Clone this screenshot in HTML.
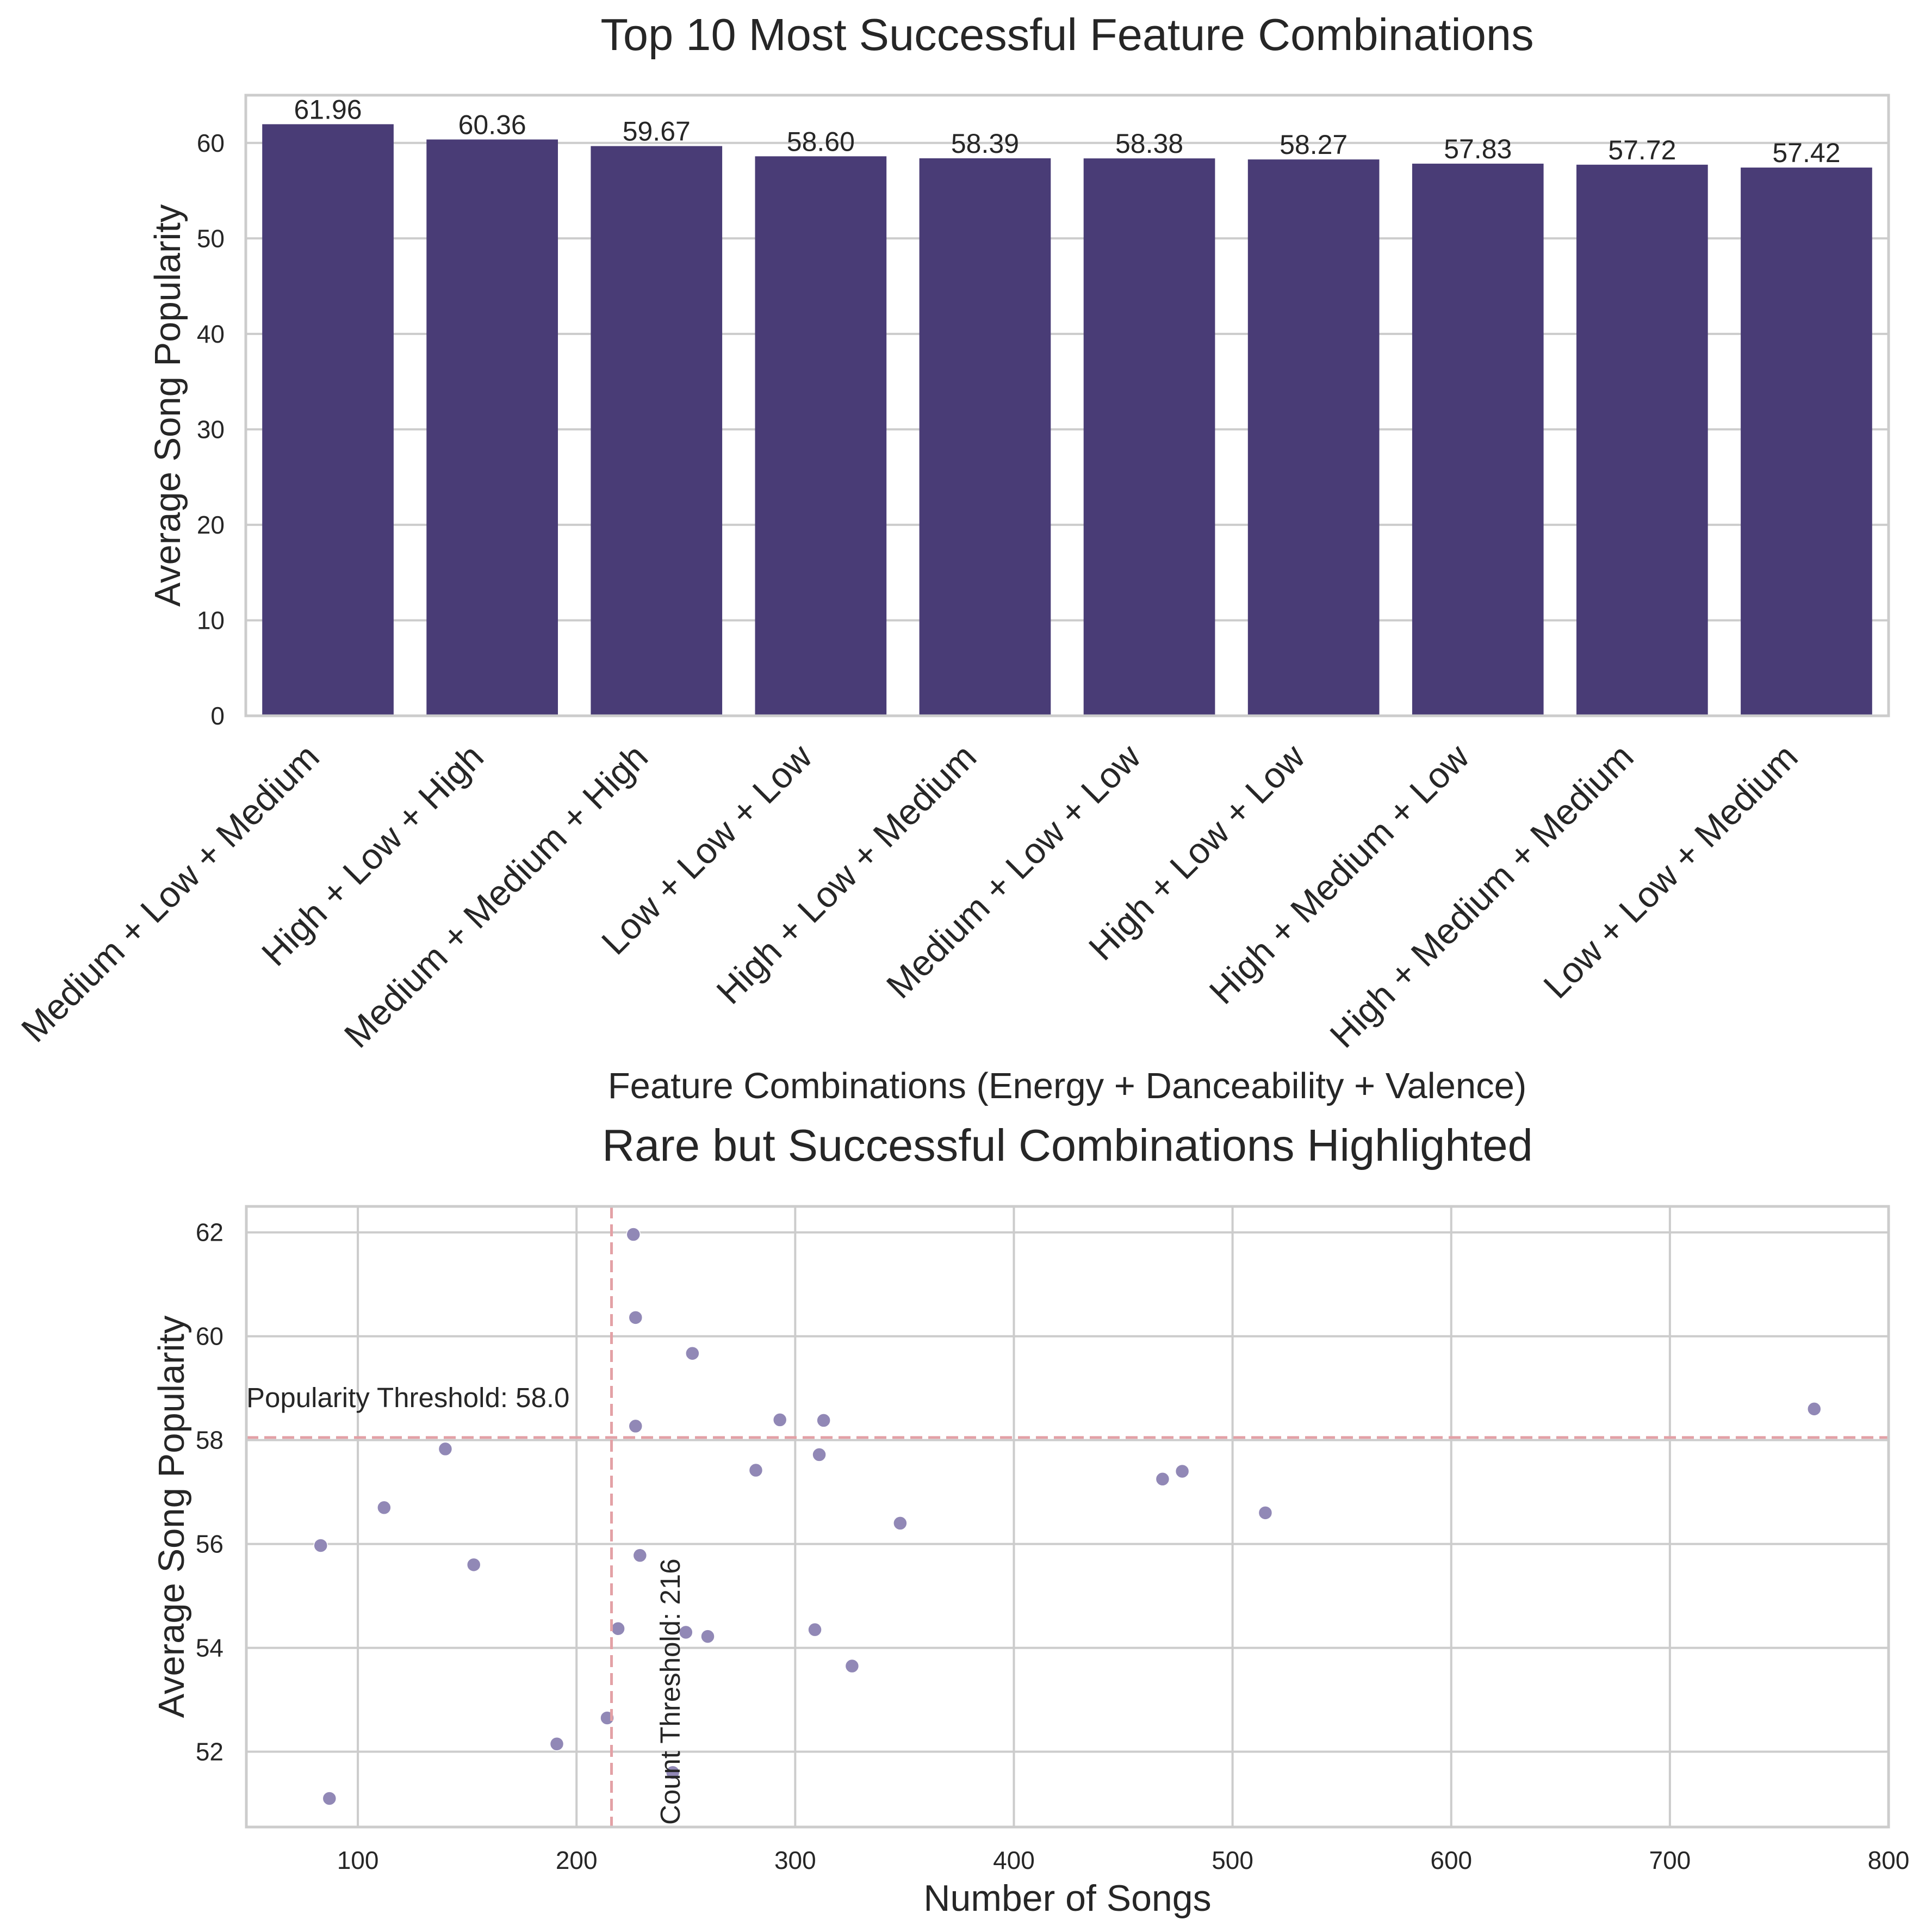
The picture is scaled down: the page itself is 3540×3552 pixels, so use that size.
<!DOCTYPE html>
<html><head><meta charset="utf-8">
<style>
html,body{margin:0;padding:0;background:#fff;}
svg{display:block;font-family:"Liberation Sans",sans-serif;}
</style></head>
<body>
<svg id="chart" width="3540" height="3552" viewBox="0 0 3540 3552" xmlns="http://www.w3.org/2000/svg">
<rect width="3540" height="3552" fill="#fff"/>
<g id="topchart"></g>
<g id="bottomchart"></g>
</svg>
<script>
const barCategories = ["Medium + Low + Medium","High + Low + High","Medium + Medium + High","Low + Low + Low","High + Low + Medium","Medium + Low + Low","High + Low + Low","High + Medium + Low","High + Medium + Medium","Low + Low + Medium"];
const barValues = [61.96,60.36,59.67,58.60,58.39,58.38,58.27,57.83,57.72,57.42];
const barYTicks = [0,10,20,30,40,50,60];

const scatterCounts = [226,227,253,227,293,313,311,282,348,140,112,83,153,229,219,250,260,309,326,214,191,244,87,468,477,515,766];
const scatterPops = [61.96,60.36,59.67,58.27,58.39,58.38,57.72,57.42,56.4,57.83,56.7,55.97,55.6,55.78,54.37,54.3,54.22,54.35,53.65,52.65,52.15,51.6,51.1,57.25,57.4,56.6,58.6];
const scatterXTicks = [100,200,300,400,500,600,700,800];
const scatterYTicks = [52,54,56,58,60,62];
const popThreshold = [58.05];
const countThreshold = [216];

const NS = "http://www.w3.org/2000/svg";
function mk(parent, tag, attrs, text){
  const e = document.createElementNS(NS, tag);
  for (const k in attrs) e.setAttribute(k, attrs[k]);
  if (text !== undefined) e.textContent = text;
  parent.appendChild(e);
  return e;
}
const GRID = "#cccccc";
const TXT = "#262626";

// ---------- TOP BAR CHART ----------
const topG = document.getElementById("topchart");
const tL = 452, tR = 3473, tT = 175, tB = 1316;
const tYmin = 0, tYmax = 65;
const ty = v => tB - (v - tYmin) / (tYmax - tYmin) * (tB - tT);
const step = (tR - tL) / barCategories.length;
const tx = i => tL + step * (i + 0.5);

barYTicks.forEach(v => {
  const g = mk(topG, "line", {x1:tL, x2:tR, y1:ty(v), y2:ty(v), stroke:GRID, "stroke-width":4});
  
  
  const t = mk(topG, "text", {x:413, y:ty(v)+16, "text-anchor":"end", "font-size":46, fill:TXT}, String(v));
  
  
});
barValues.forEach((v, i) => {
  const w = step * 0.8;
  const r = mk(topG, "rect", {x:tx(i)-w/2, y:ty(v), width:w, height:ty(0)-ty(v), fill:"#493c76"});
  
  
  const l = mk(topG, "text", {x:tx(i), y:ty(v)-10, "text-anchor":"middle", "font-size":50, fill:TXT}, v.toFixed(2));
  
  
  const cx = tx(i) - 12, cy = 1396;
  const c = mk(topG, "text", {x:cx, y:cy, "text-anchor":"end", "font-size":66, fill:TXT, transform:`rotate(-45 ${cx} ${cy})`}, barCategories[i]);
  
  
});
const tspine = mk(topG, "rect", {x:tL, y:tT, width:tR-tL, height:tB-tT, fill:"none", stroke:GRID, "stroke-width":5});


const tTitle = mk(topG, "text", {x:(tL+tR)/2, y:92, "text-anchor":"middle", "font-size":83, fill:TXT}, "Top 10 Most Successful Feature Combinations");


const tYL = mk(topG, "text", {x:0, y:0, "text-anchor":"middle", "font-size":67, fill:TXT, transform:`translate(331 ${(tT+tB)/2}) rotate(-90)`}, "Average Song Popularity");


const tXL = mk(topG, "text", {x:(tL+tR)/2, y:2019, "text-anchor":"middle", "font-size":67, fill:TXT}, "Feature Combinations (Energy + Danceability + Valence)");



// ---------- BOTTOM SCATTER ----------
const botG = document.getElementById("bottomchart");
const bL = 453, bR = 3473, bT = 2218, bB = 3359;
const bXmin = 49, bXmax = 800, bYmin = 50.55, bYmax = 62.5;
const bx = v => bL + (v - bXmin) / (bXmax - bXmin) * (bR - bL);
const by = v => bB - (v - bYmin) / (bYmax - bYmin) * (bB - bT);

scatterXTicks.forEach(v => {
  const g = mk(botG, "line", {x1:bx(v), x2:bx(v), y1:bT, y2:bB, stroke:GRID, "stroke-width":4});
  
  
  const t = mk(botG, "text", {x:bx(v), y:3436, "text-anchor":"middle", "font-size":46, fill:TXT}, String(v));
  
  
});
scatterYTicks.forEach(v => {
  const g = mk(botG, "line", {x1:bL, x2:bR, y1:by(v), y2:by(v), stroke:GRID, "stroke-width":4});
  
  
  const t = mk(botG, "text", {x:411, y:by(v)+16, "text-anchor":"end", "font-size":46, fill:TXT}, String(v));
  
  
});
scatterCounts.forEach((c, i) => {
  const p = mk(botG, "circle", {cx:bx(c), cy:by(scatterPops[i]), r:12.5, fill:"#9188b6", stroke:"#fff", "stroke-width":1.5});
  
  
});
const hl = mk(botG, "line", {x1:bL, x2:bR, y1:by(popThreshold[0]), y2:by(popThreshold[0]), stroke:"#e3a1a6", "stroke-width":5, "stroke-dasharray":"22 11"});


const vl = mk(botG, "line", {x1:bx(countThreshold[0]), x2:bx(countThreshold[0]), y1:bT, y2:bB, stroke:"#e3a1a6", "stroke-width":5, "stroke-dasharray":"22 11"});


const ht = mk(botG, "text", {x:bL, y:2587, "font-size":51, fill:TXT}, "Popularity Threshold: " + popThreshold[0].toFixed(1));


const vt = mk(botG, "text", {x:0, y:0, "font-size":51, fill:TXT, transform:`translate(1250 3355) rotate(-90)`}, "Count Threshold: " + countThreshold[0]);


const bspine = mk(botG, "rect", {x:bL, y:bT, width:bR-bL, height:bB-bT, fill:"none", stroke:GRID, "stroke-width":5});


const bTitle = mk(botG, "text", {x:(bL+bR)/2, y:2134, "text-anchor":"middle", "font-size":83, fill:TXT}, "Rare but Successful Combinations Highlighted");


const bYL = mk(botG, "text", {x:0, y:0, "text-anchor":"middle", "font-size":67, fill:TXT, transform:`translate(338 ${(bT+bB)/2}) rotate(-90)`}, "Average Song Popularity");


const bXL = mk(botG, "text", {x:(bL+bR)/2, y:3513, "text-anchor":"middle", "font-size":68, fill:TXT}, "Number of Songs");


</script>
</body></html>
